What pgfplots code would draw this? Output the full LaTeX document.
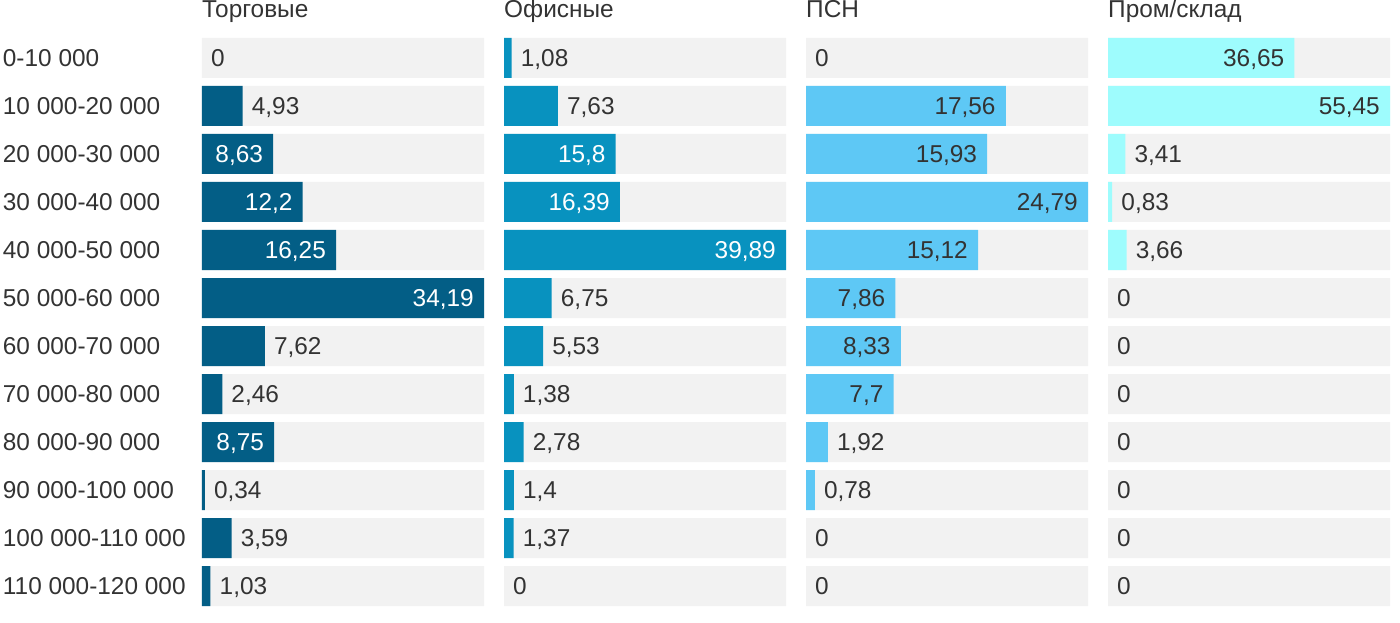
\documentclass[border=0pt]{standalone}
\usepackage{fontspec}
\setmainfont{Liberation Sans}
\usepackage{pgfplots}
\pgfplotsset{compat=1.18}

\definecolor{txt}{HTML}{333333}
\definecolor{track}{HTML}{F2F2F2}
\definecolor{c1}{HTML}{035E86}
\definecolor{c2}{HTML}{0892BF}
\definecolor{c3}{HTML}{5EC8F5}
\definecolor{c4}{HTML}{9EFCFD}

\pgfplotsset{
  panel/.style={
    xbar, bar width=40pt, bar shift=0pt,
    width=282pt, height=576pt, scale only axis,
    anchor=south west,
    xmin=0, ymin=0.5, ymax=12.5,
    axis line style={draw=none}, tick style={draw=none},
    xtick=\empty, ytick={1,...,12}, yticklabels={},
    clip=false,
    title style={at={(axis description cs:0,1)}, anchor=base west,
      yshift=10pt, inner sep=0pt, text=txt},
    /pgf/number format/use comma,
    /pgf/number format/1000 sep={},
    /pgf/number format/assume math mode=true,
  },
  track/.style={fill=track, draw=none},
  lblout/.style={draw=none, fill=none, point meta=x, nodes near coords,
    every node near coord/.append style={anchor=base west, xshift=9pt,
      yshift=-8.7pt, inner sep=0pt, text=txt}},
  lblin/.style={draw=none, fill=none, point meta=x, nodes near coords,
    every node near coord/.append style={anchor=base east, xshift=-10pt,
      yshift=-8.7pt, inner sep=0pt, text=#1}},
}

\begin{document}
\begin{tikzpicture}[font=\fontsize{24.4}{28}\selectfont]
\useasboundingbox (0,0) rectangle (1400pt,622pt);

% Торговые
\begin{axis}[panel, at={(202pt,12pt)}, xmax=34.19, title={Торговые},
  yticklabels={110 000-120 000, 100 000-110 000, 90 000-100 000, 80 000-90 000,
    70 000-80 000, 60 000-70 000, 50 000-60 000, 40 000-50 000,
    30 000-40 000, 20 000-30 000, 10 000-20 000, 0-10 000},
  yticklabel style={anchor=base west, xshift=-195pt, yshift=-8.7pt,
    inner sep=0pt, text=txt, font=\fontsize{24.4}{28}\selectfont}]
\addplot[track] coordinates {(34.19,1) (34.19,2) (34.19,3) (34.19,4) (34.19,5) (34.19,6)
  (34.19,7) (34.19,8) (34.19,9) (34.19,10) (34.19,11) (34.19,12)};
\addplot[fill=c1, draw=none] coordinates {(4.93,11) (8.63,10) (12.2,9) (16.25,8)
  (34.19,7) (7.62,6) (2.46,5) (8.75,4) (0.34,3) (3.59,2) (1.03,1)};
\addplot[lblin=white] coordinates {(8.63,10) (12.2,9) (16.25,8) (34.19,7) (8.75,4)};
\addplot[lblout] coordinates {(0,12) (4.93,11) (7.62,6) (2.46,5) (0.34,3) (3.59,2) (1.03,1)};
\end{axis}

% Офисные
\begin{axis}[panel, at={(504pt,12pt)}, xmax=39.89, title={Офисные}]
\addplot[track] coordinates {(39.89,1) (39.89,2) (39.89,3) (39.89,4) (39.89,5) (39.89,6)
  (39.89,7) (39.89,8) (39.89,9) (39.89,10) (39.89,11) (39.89,12)};
\addplot[fill=c2, draw=none] coordinates {(1.08,12) (7.63,11) (15.8,10) (16.39,9) (39.89,8)
  (6.75,7) (5.53,6) (1.38,5) (2.78,4) (1.4,3) (1.37,2)};
\addplot[lblin=white] coordinates {(15.8,10) (16.39,9) (39.89,8)};
\addplot[lblout] coordinates {(1.08,12) (7.63,11) (6.75,7) (5.53,6) (1.38,5) (2.78,4)
  (1.4,3) (1.37,2) (0,1)};
\end{axis}

% ПСН
\begin{axis}[panel, at={(806pt,12pt)}, xmax=24.79, title={ПСН}]
\addplot[track] coordinates {(24.79,1) (24.79,2) (24.79,3) (24.79,4) (24.79,5) (24.79,6)
  (24.79,7) (24.79,8) (24.79,9) (24.79,10) (24.79,11) (24.79,12)};
\addplot[fill=c3, draw=none] coordinates {(17.56,11) (15.93,10) (24.79,9) (15.12,8)
  (7.86,7) (8.33,6) (7.7,5) (1.92,4) (0.78,3)};
\addplot[lblin=txt] coordinates {(17.56,11) (15.93,10) (24.79,9) (15.12,8) (7.86,7)
  (8.33,6) (7.7,5)};
\addplot[lblout] coordinates {(0,12) (1.92,4) (0.78,3) (0,2) (0,1)};
\end{axis}

% Пром/склад
\begin{axis}[panel, at={(1108pt,12pt)}, xmax=55.45, title={Пром/склад}]
\addplot[track] coordinates {(55.45,1) (55.45,2) (55.45,3) (55.45,4) (55.45,5) (55.45,6)
  (55.45,7) (55.45,8) (55.45,9) (55.45,10) (55.45,11) (55.45,12)};
\addplot[fill=c4, draw=none] coordinates {(36.65,12) (55.45,11) (3.41,10) (0.83,9) (3.66,8)};
\addplot[lblin=txt] coordinates {(36.65,12) (55.45,11)};
\addplot[lblout] coordinates {(3.41,10) (0.83,9) (3.66,8) (0,7) (0,6) (0,5) (0,4)
  (0,3) (0,2) (0,1)};
\end{axis}
\end{tikzpicture}
\end{document}
